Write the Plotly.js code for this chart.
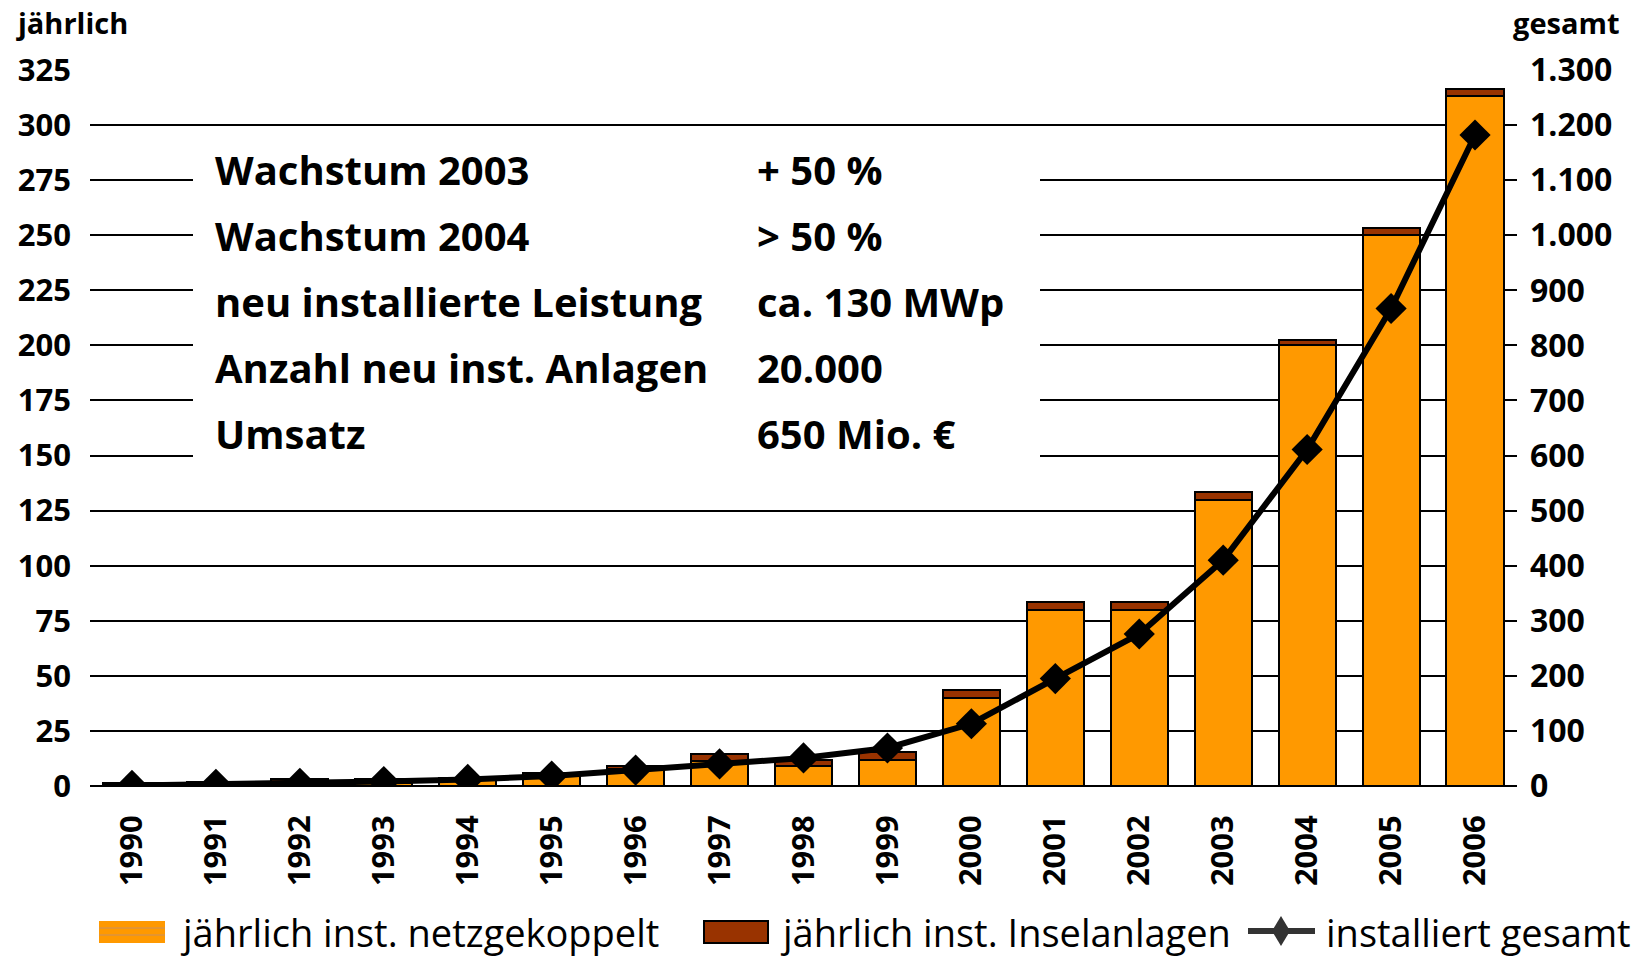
<!DOCTYPE html>
<html>
<head>
<meta charset="utf-8">
<script src="https://cdn.plot.ly/plotly-3.0.1.min.js"></script>
<style>html,body{margin:0;padding:0;background:#fff;}#chart{width:1634px;height:961px;}</style>
</head>
<body>
<div id="chart"></div>
<script>
const years = ["1990","1991","1992","1993","1994","1995","1996","1997","1998","1999","2000","2001","2002","2003","2004","2005","2006"];
const netzgekoppelt = [0.5, 1, 1.5, 1.5, 2.5, 4.5, 7.5, 11.5, 9, 12, 40, 80, 80, 130, 200, 250, 313];
const inselanlagen = [0.8, 1, 1.5, 1.5, 1, 1.3, 1.5, 3, 3, 3.5, 3.5, 3.3, 3.3, 3.5, 2.5, 3.5, 3.5];
const gesamt = [1, 3, 5, 8, 12, 18, 29, 40, 51, 69, 113, 195, 276, 410, 611, 867, 1182];

const infoLabels = ["Wachstum 2003", "Wachstum 2004", "neu installierte Leistung", "Anzahl neu inst. Anlagen", "Umsatz"];
const infoValues = ["+ 50 %", "> 50 %", "ca. 130 MWp", "20.000", "650 Mio. €"];
const infoRows = [280, 250, 220, 190, 160];

const legendNames = ["jährlich inst. netzgekoppelt", "jährlich inst. Inselanlagen", "installiert gesamt"];

const ORANGE = "#FF9900";
const BROWN = "#993300";
const FONT = "Open Sans, Noto Sans, sans-serif";

const traces = [
  {type: "bar", x: years, y: netzgekoppelt, name: legendNames[0],
   marker: {color: ORANGE, line: {color: "#000", width: 2}}, yaxis: "y"},
  {type: "bar", x: years, y: inselanlagen, name: legendNames[1],
   marker: {color: BROWN, line: {color: "#000", width: 2}}, yaxis: "y"},
  {type: "scatter", mode: "lines+markers", x: years, y: gesamt, name: legendNames[2],
   line: {color: "#000", width: 6}, marker: {symbol: "diamond", size: 24, color: "#000"}, yaxis: "y2"}
];

function px2paperX(px){ return (px - 90) / 1427; }
function px2paperY(py){ return (786 - py) / 716; }

const annotations = [];
infoLabels.forEach((t, i) => {
  annotations.push({text: t, x: 0.0862, xref: "paper", xanchor: "left", y: infoRows[i], yref: "y", yanchor: "middle",
    showarrow: false, font: {family: FONT, size: 40, color: "#000", weight: "bold"}});
  annotations.push({text: infoValues[i], x: 0.466, xref: "paper", xanchor: "left", y: infoRows[i], yref: "y", yanchor: "middle",
    showarrow: false, font: {family: FONT, size: 40, color: "#000", weight: "bold"}});
});
annotations.push({text: "jährlich", x: px2paperX(14), xref: "paper", xanchor: "left", y: px2paperY(22), yref: "paper", yanchor: "middle",
  showarrow: false, font: {family: FONT, size: 29, color: "#000", weight: "bold"}});
annotations.push({text: "gesamt", x: px2paperX(1622), xref: "paper", xanchor: "right", y: px2paperY(22), yref: "paper", yanchor: "middle",
  showarrow: false, font: {family: FONT, size: 29, color: "#000", weight: "bold"}});

const legX = [178, 778, 1324];
legX.forEach((px, i) => {
  annotations.push({text: legendNames[i], x: px2paperX(px), xref: "paper", xanchor: "left", y: px2paperY(932), yref: "paper", yanchor: "middle",
    showarrow: false, font: {family: FONT, size: 38, color: "#000"}});
});

const shapes = [
  {type: "rect", layer: "above", xref: "paper", yref: "y", x0: px2paperX(193), x1: px2paperX(1040), y0: 140, y1: 292,
   fillcolor: "#fff", line: {width: 0}},
  {type: "rect", xref: "paper", yref: "paper", x0: px2paperX(99), x1: px2paperX(165), y0: px2paperY(921), y1: px2paperY(943),
   fillcolor: ORANGE, line: {width: 0}},
  {type: "line", xref: "paper", yref: "paper", x0: px2paperX(99), x1: px2paperX(165), y0: px2paperY(928), y1: px2paperY(928),
   line: {color: "#c89060", width: 1}},
  {type: "line", xref: "paper", yref: "paper", x0: px2paperX(99), x1: px2paperX(165), y0: px2paperY(935), y1: px2paperY(935),
   line: {color: "#c89060", width: 1}},
  {type: "rect", xref: "paper", yref: "paper", x0: px2paperX(704), x1: px2paperX(768), y0: px2paperY(921), y1: px2paperY(943),
   fillcolor: BROWN, line: {color: "#000", width: 2}},
  {type: "line", xref: "paper", yref: "paper", x0: px2paperX(1248), x1: px2paperX(1315), y0: px2paperY(931), y1: px2paperY(931),
   line: {color: "#333", width: 6}},
  {type: "path", xref: "paper", yref: "paper",
   path: `M ${px2paperX(1281)} ${px2paperY(916)} L ${px2paperX(1290)} ${px2paperY(931)} L ${px2paperX(1281)} ${px2paperY(946)} L ${px2paperX(1272)} ${px2paperY(931)} Z`,
   fillcolor: "#333", line: {width: 0}}
];

const layout = {
  width: 1634, height: 961,
  margin: {l: 90, r: 117, t: 70, b: 175},
  paper_bgcolor: "#fff", plot_bgcolor: "#fff",
  separators: ",.",
  barmode: "stack", bargap: 0.32,
  showlegend: false,
  font: {family: FONT, color: "#000"},
  xaxis: {type: "category", range: [-0.5, 16.5], autorange: false, showgrid: false, zeroline: false, showline: false,
    tickangle: -90, ticklabelstandoff: 22, tickfont: {family: FONT, size: 31, weight: "bold", color: "#000"}},
  yaxis: {range: [0, 325], dtick: 25, tick0: 0, showgrid: true, gridcolor: "#000", gridwidth: 2,
    zeroline: true, zerolinecolor: "#000", zerolinewidth: 2, showline: false, ticks: "",
    ticklabelstandoff: 18, tickfont: {family: FONT, size: 31, weight: "bold", color: "#000"}},
  yaxis2: {range: [0, 1300], dtick: 100, tick0: 0, overlaying: "y", side: "right", showgrid: false,
    zeroline: false, showline: false, ticks: "", separatethousands: true,
    ticklabelstandoff: 12, tickfont: {family: FONT, size: 32, weight: "bold", color: "#000"}},
  annotations: annotations,
  shapes: shapes
};

Plotly.newPlot("chart", traces, layout, {displayModeBar: false, staticPlot: true});
</script>
</body>
</html>
